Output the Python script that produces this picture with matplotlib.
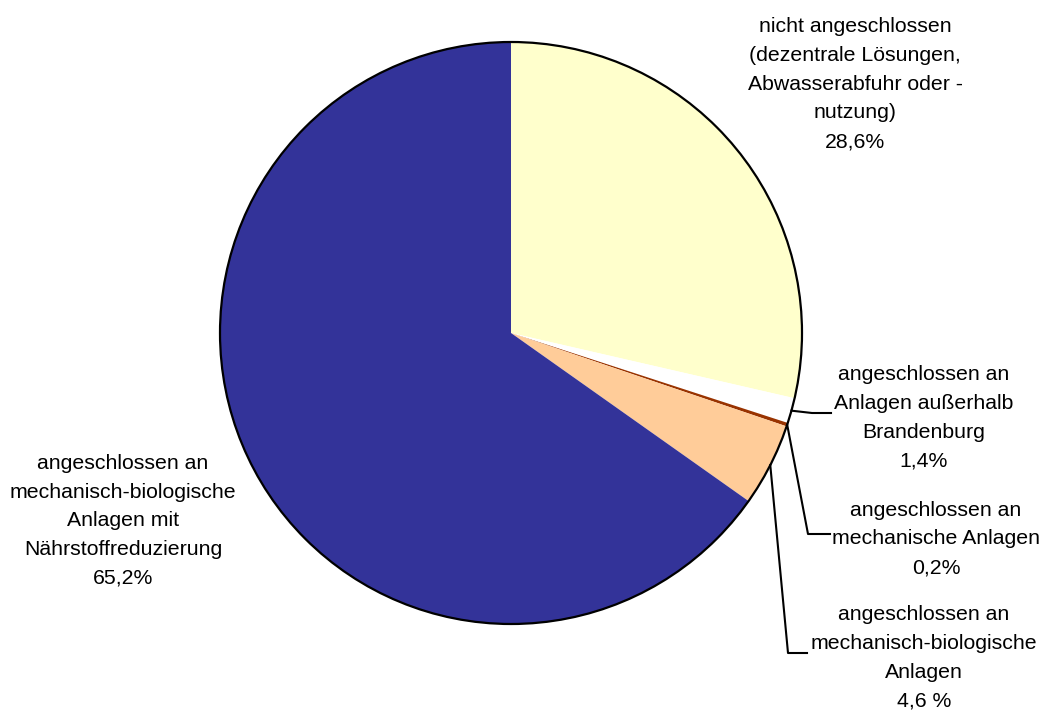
import numpy as np
import matplotlib
matplotlib.use("Agg")
import matplotlib.pyplot as plt
from matplotlib.patches import Circle

plt.rcParams['font.family'] = ['Liberation Sans', 'DejaVu Sans']

# Anteile der Einwohner nach Art der Abwasserentsorgung (%)
labels = [
    "nicht angeschlossen\n(dezentrale Lösungen,\nAbwasserabfuhr oder -\nnutzung)\n28,6%",
    "angeschlossen an\nAnlagen außerhalb\nBrandenburg\n1,4%",
    "angeschlossen an\nmechanische Anlagen\n0,2%",
    "angeschlossen an\nmechanisch-biologische\nAnlagen\n4,6 %",
    "angeschlossen an\nmechanisch-biologische\nAnlagen mit\nNährstoffreduzierung\n65,2%",
]
values = [28.6, 1.4, 0.2, 4.6, 65.2]
colors = ["#FFFFCC", "#FFFFFF", "#993300", "#FFCC99", "#333399"]

W, H = 1044, 713
fig = plt.figure(figsize=(W / 100, H / 100), dpi=100)
ax = fig.add_axes([0, 0, 1, 1])

def py(y):
    # pixel row (top-down) -> axes y
    return H - y

cx, cy, r = 511, 333, 291
wedges, _ = ax.pie(values, colors=colors, startangle=90, counterclock=False,
                   center=(cx, py(cy)), radius=r, frame=True,
                   wedgeprops=dict(linewidth=0))
ax.set_xlim(0, W)
ax.set_ylim(0, H)
ax.set_aspect('equal')
ax.axis('off')
ax.add_patch(Circle((cx, py(cy)), r, fill=False, edgecolor='black', lw=1.6, zorder=3))

# Textpositionen (Mitte des Blocks)
text_pos = [(855, 84), (924, 418), (936, 539), (924, 658), (123, 521)]
for lab, (tx, ty) in zip(labels, text_pos):
    ax.text(tx, py(ty), lab, ha='center', va='center', fontsize=15.3,
            linespacing=1.65, color='black')

# Führungslinien für die kleinen Segmente
elbows = {1: [(812, 413), (831, 413)],
          2: [(808, 534), (830, 534)],
          3: [(788, 653), (807, 653)]}
cum = np.cumsum([0] + values)
for i, pts in elbows.items():
    mid = (cum[i] + cum[i + 1]) / 2 / 100 * 360
    ang = np.deg2rad(90 - mid)
    x0 = cx + r * np.cos(ang)
    y0 = py(cy) + r * np.sin(ang)
    xs = [x0] + [p[0] for p in pts]
    ys = [y0] + [py(p[1]) for p in pts]
    ax.plot(xs, ys, color='black', lw=1.5, zorder=4)

fig.savefig("out.png", dpi=100, facecolor='white')
